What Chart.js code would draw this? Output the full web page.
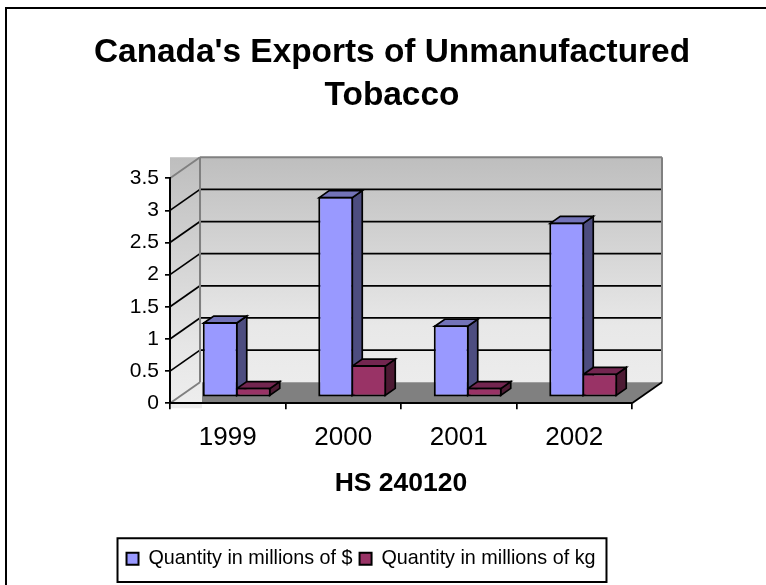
<!DOCTYPE html>
<html>
<head>
<meta charset="utf-8">
<title>Canada's Exports of Unmanufactured Tobacco</title>
<script src="https://cdn.jsdelivr.net/npm/chart.js@4"></script>
<style>
    html, body { margin: 0; padding: 0; background: #fff; }
    canvas { display: block; }
</style>
</head>
<body>
<canvas id="tobacco_chart" width="766" height="585"></canvas>
<script>
const years = ['1999', '2000', '2001', '2002'];
const millionsDollars = [1.17, 3.12, 1.12, 2.72];
const millionsKg = [0.15, 0.5, 0.15, 0.37];
const yMax = 3.5;
const yStep = 0.5;

const FONT = "'Liberation Sans', Arial, sans-serif";

// how far the floor and the bars recede
const floorDepth = { x: 30, y: 21 };
const barDepth = { x: 10, y: 7 };
const barOffset = { x: 9, y: 6 };

const faces = [
    { side: '#4d4d80', top: '#7373b8' },
    { side: '#4d1a33', top: '#732650' },
];

function poly(ctx, pts, fill, stroke, width) {
    ctx.beginPath();
    pts.forEach((p, i) => i ? ctx.lineTo(p[0], p[1]) : ctx.moveTo(p[0], p[1]));
    ctx.closePath();
    if (fill) { ctx.fillStyle = fill; ctx.fill(); }
    if (stroke) { ctx.strokeStyle = stroke; ctx.lineWidth = width; ctx.stroke(); }
}

function line(ctx, x1, y1, x2, y2, color, width) {
    ctx.beginPath();
    ctx.moveTo(x1, y1);
    ctx.lineTo(x2, y2);
    ctx.strokeStyle = color;
    ctx.lineWidth = width;
    ctx.stroke();
}

// back wall, side wall, floor and gridlines, all hung on the y scale
const wallsPlugin = {
    id: 'walls',
    afterLayout(chart) {
        chart.titleBlock.left = 0;
        chart.titleBlock.right = 784;
        chart.legend.left = 0;
        chart.legend.right = 722;
        chart.legend.adjustHitBoxes();
    },
    beforeDraw(chart) {
        const ctx = chart.ctx;
        const { left, right, top, bottom } = chart.chartArea;
        const y = chart.scales.y;
        const dx = floorDepth.x, dy = floorDepth.y;
        const backTop = top - dy, backBottom = bottom - dy;

        ctx.save();
        // frame of the chart, top and left only
        line(ctx, 6, 8, 766, 8, '#000', 2);
        line(ctx, 6, 7, 6, 585, '#000', 2);

        const backFill = ctx.createLinearGradient(0, backTop, 0, backBottom);
        backFill.addColorStop(0, '#bebebe');
        backFill.addColorStop(0.75, '#e8e8e8');
        backFill.addColorStop(1, '#ececec');
        ctx.fillStyle = backFill;
        ctx.fillRect(left + dx, backTop, right - left, bottom - top);

        poly(ctx, [[left, bottom], [left + dx, backBottom], [right + dx, backBottom], [right, bottom]], '#808080');

        const sideFill = ctx.createLinearGradient(0, backTop, 0, bottom + 5);
        sideFill.addColorStop(0, '#bebebe');
        sideFill.addColorStop(0.75, '#e6e6e6');
        sideFill.addColorStop(1, '#eeeeee');
        ctx.fillStyle = sideFill;
        ctx.fillRect(left, backTop, dx + 2, bottom - top + dy + 5);

        y.ticks.forEach(t => {
            const py = y.getPixelForValue(t.value);
            if (t.value > 0 && t.value < yMax) {
                line(ctx, left, py, left + dx, py - dy, '#000', 1.7);
                line(ctx, left + dx, py - dy, right + dx, py - dy, '#000', 1.7);
            }
        });

        line(ctx, left, top, left + dx, backTop, '#808080', 2);
        line(ctx, left, bottom, left + dx, backBottom, '#808080', 2);
        line(ctx, left + dx, backTop, left + dx, backBottom, '#808080', 2);
        line(ctx, left + dx, backTop, right + dx, backTop, '#808080', 2);
        line(ctx, right + dx, backTop, right + dx, backBottom, '#808080', 2);
        line(ctx, right, bottom, right + dx, backBottom, '#000', 1.7);

        // box round the legend
        const boxes = chart.legend.legendHitBoxes;
        const last = boxes[boxes.length - 1];
        const boxLeft = boxes[0].left - 9;
        ctx.strokeStyle = '#000';
        ctx.lineWidth = 2;
        ctx.strokeRect(boxLeft, chart.legend.top - 3.5, last.left + last.width + 11 - boxLeft, chart.legend.height + 7);
        ctx.restore();
    },
    // side and top faces go under every front face, then the fronts get shifted too
    beforeDatasetsDraw(chart) {
        const ctx = chart.ctx;
        ctx.save();
        ctx.translate(barOffset.x, -barOffset.y);
        chart.data.datasets.forEach((ds, i) => {
            chart.getDatasetMeta(i).data.forEach(bar => {
                const { x, y, base, width } = bar.getProps(['x', 'y', 'base', 'width']);
                const l = x - width / 2, r = x + width / 2 - 1;
                const dx = barDepth.x, dy = barDepth.y;
                poly(ctx, [[r, y + 1], [r + dx, y + 1 - dy], [r + dx, base - 1 - dy], [r, base - 1]], faces[i].side, '#000', 1.7);
                poly(ctx, [[l + 1, y + 1], [l + 1 + dx, y + 1 - dy], [r + dx, y + 1 - dy], [r, y + 1]], faces[i].top, '#000', 1.7);
            });
        });
    },
    afterDatasetsDraw(chart) {
        chart.ctx.restore();
    },
};

const ctx = document.getElementById('tobacco_chart');
const chart = new Chart(ctx, {
    type: 'bar',
    data: {
        labels: years,
        datasets: [
            {
                label: 'Quantity in millions of $',
                data: millionsDollars,
                backgroundColor: '#9999ff',
                borderColor: '#000',
                borderWidth: 2,
                borderSkipped: false,
                clip: false,
            },
            {
                label: 'Quantity in millions of kg',
                data: millionsKg,
                backgroundColor: '#993366',
                borderColor: '#000',
                borderWidth: 2,
                borderSkipped: false,
                clip: false,
            },
        ]
    },
    plugins: [wallsPlugin],
    options: {
        responsive: false,
        animation: false,
        layout: { padding: { left: 0, right: 134, top: 0, bottom: 6.5 } },
        categoryPercentage: 0.5714,
        barPercentage: 1.06,
        plugins: {
            tooltip: { enabled: false },
            title: {
                display: true,
                text: ["Canada's Exports of Unmanufactured", 'Tobacco'],
                color: '#000',
                padding: { top: 32, bottom: 61.4 },
                font: { family: FONT, size: 33.4, weight: 'bold', lineHeight: 1.27 },
            },
            legend: {
                position: 'bottom',
                labels: {
                    color: '#000',
                    boxWidth: 12,
                    boxHeight: 12,
                    padding: 7,
                    font: { family: FONT, size: 19.75, lineHeight: 1 },
                },
            },
        },
        scales: {
            x: {
                afterFit: s => { s.height = 138.5; },
                grid: { drawOnChartArea: false, color: '#000', lineWidth: 1.7, tickLength: 6 },
                border: { color: '#000', width: 2 },
                ticks: { color: '#000', padding: 12.5, maxRotation: 0, font: { family: FONT, size: 26 } },
                title: {
                    display: true,
                    text: 'HS 240120',
                    color: '#000',
                    padding: { top: 0, bottom: 42.6 },
                    font: { family: FONT, size: 26.5, weight: 'bold' },
                },
            },
            y: {
                min: 0,
                max: yMax,
                afterFit: s => { s.width = 170; },
                grid: { drawOnChartArea: false, color: '#000', lineWidth: 1.7, tickLength: 5 },
                border: { color: '#000', width: 2 },
                ticks: {
                    color: '#000',
                    stepSize: yStep,
                    padding: 6,
                    callback: v => String(v),
                    font: { family: FONT, size: 21 },
                },
            },
        },
    },
});
</script>
</body>
</html>
